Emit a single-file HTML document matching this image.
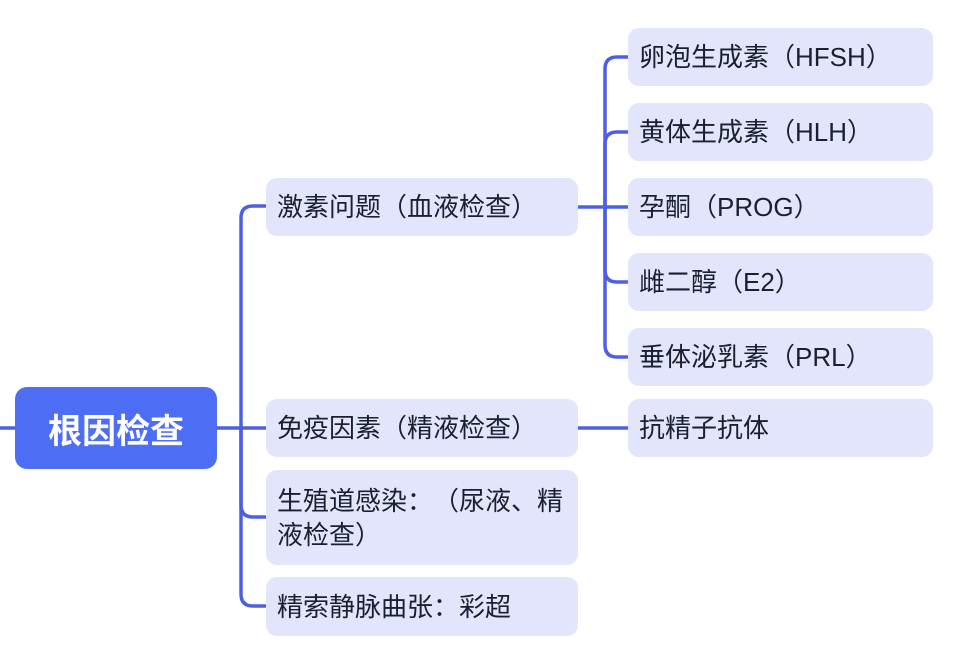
<!DOCTYPE html>
<html><head><meta charset="utf-8">
<style>
html,body{margin:0;padding:0;background:#fff;}
body{width:966px;height:665px;position:relative;overflow:hidden;font-family:"Liberation Sans","Noto Sans CJK SC",sans-serif;}
svg{position:absolute;left:0;top:0;}
.n{position:absolute;background:#e2e5fb;border-radius:11px;color:#1b1f33;font-size:26px;line-height:34px;box-sizing:border-box;padding:0 8px 0 11px;display:flex;align-items:center;font-family:"Liberation Sans","Noto Sans CJK SC",sans-serif;text-spacing-trim:space-all;font-feature-settings:"chws" 0,"halt" 0;}
.l1{left:266px;width:312px;}
.l2{left:628px;width:305px;}
.root{position:absolute;left:15px;top:387px;width:202px;height:82px;background:#4e6df5;border-radius:12px;color:#fff;font-weight:bold;font-size:34px;display:flex;align-items:center;justify-content:center;font-family:"Liberation Sans","Noto Sans CJK SC",sans-serif;}
</style></head><body>
<svg width="966" height="665" viewBox="0 0 966 665">
<g fill="none" stroke="#4d60e2" stroke-width="3.5" stroke-linecap="round">
<path d="M0 428 H217"/>
<path d="M217 428 H266"/>
<path d="M241 428 V218 Q241 206 253 206 H266"/>
<path d="M241 428 V505 Q241 517 253 517 H266"/>
<path d="M241 428 V594 Q241 606 253 606 H266"/>
<path d="M578 207 H628"/>
<path d="M605 207 V69 Q605 57 617 57 H628"/>
<path d="M605 207 V144 Q605 132 617 132 H628"/>
<path d="M605 207 V270 Q605 282 617 282 H628"/>
<path d="M605 207 V345 Q605 357 617 357 H628"/>
<path d="M578 428 H628"/>
</g>
</svg>
<div class="root">根因检查</div>
<div class="n l1" style="top:178px;height:58px;">激素问题（血液检查）</div>
<div class="n l1" style="top:399px;height:58px;">免疫因素（精液检查）</div>
<div class="n l1" style="top:470px;height:95px;">生殖道感染：（尿液、精液检查）</div>
<div class="n l1" style="top:577px;height:59px;">精索静脉曲张：彩超</div>
<div class="n l2" style="top:28px;height:58px;">卵泡生成素（HFSH）</div>
<div class="n l2" style="top:103px;height:58px;">黄体生成素（HLH）</div>
<div class="n l2" style="top:178px;height:58px;">孕酮（PROG）</div>
<div class="n l2" style="top:253px;height:58px;">雌二醇（E2）</div>
<div class="n l2" style="top:328px;height:58px;">垂体泌乳素（PRL）</div>
<div class="n l2" style="top:399px;height:58px;">抗精子抗体</div>
</body></html>
